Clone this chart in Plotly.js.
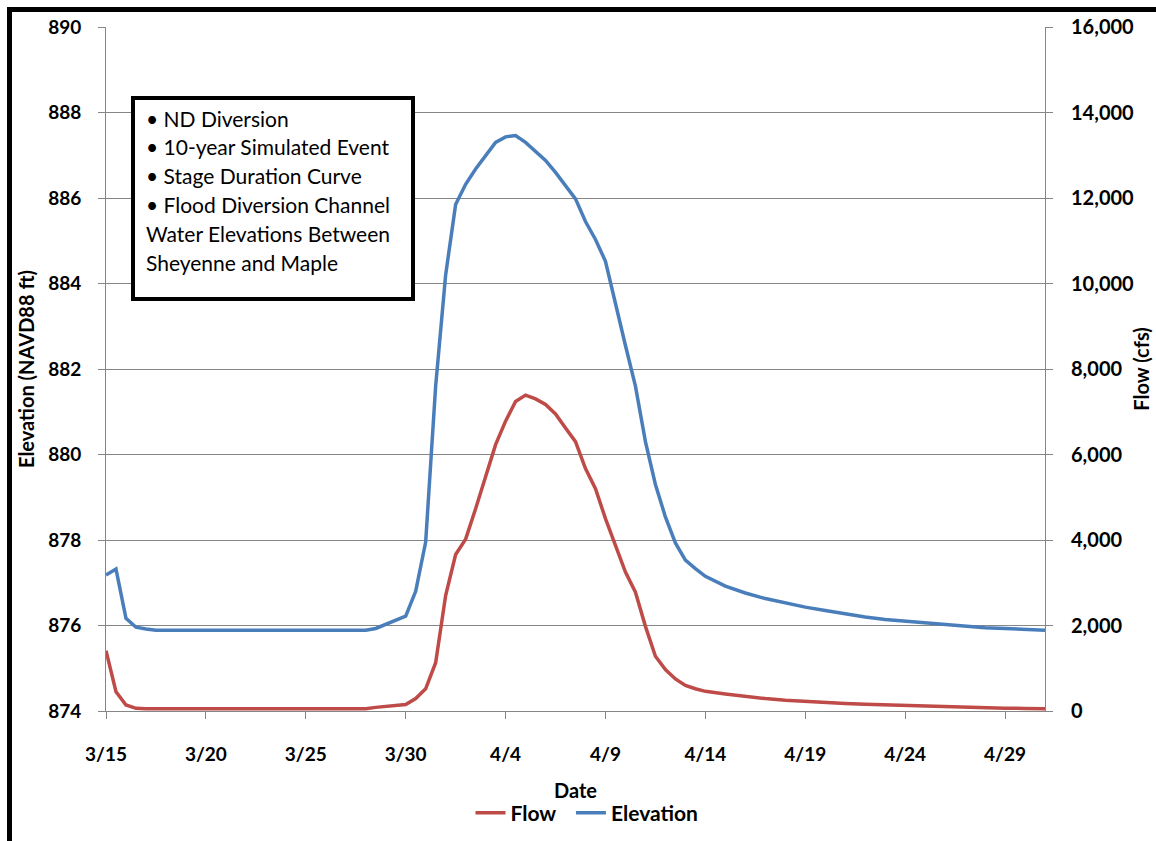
<!DOCTYPE html>
<html>
<head>
<meta charset="utf-8">
<script src="https://cdn.plot.ly/plotly-3.0.1.min.js"></script>
<style>
  html, body { margin: 0; padding: 0; background: #ffffff; }
  #chart { width: 1156px; height: 841px; }
</style>
</head>
<body>
<div id="chart"></div>
<script>
// ---- Data ----
const dates = [
  '2010-03-15 00:00', '2010-03-15 12:00', '2010-03-16 00:00', '2010-03-16 12:00',
  '2010-03-17 00:00', '2010-03-17 12:00', '2010-03-18', '2010-03-19', '2010-03-20',
  '2010-03-21', '2010-03-22', '2010-03-23', '2010-03-24', '2010-03-25', '2010-03-26',
  '2010-03-27', '2010-03-28 00:00', '2010-03-28 12:00', '2010-03-29 00:00', '2010-03-29 12:00',
  '2010-03-30 00:00', '2010-03-30 12:00', '2010-03-31 00:00', '2010-03-31 12:00',
  '2010-04-01 00:00', '2010-04-01 12:00', '2010-04-02 00:00', '2010-04-02 12:00',
  '2010-04-03 00:00', '2010-04-03 12:00', '2010-04-04 00:00', '2010-04-04 12:00',
  '2010-04-05 00:00', '2010-04-05 12:00', '2010-04-06 00:00', '2010-04-06 12:00',
  '2010-04-07 00:00', '2010-04-07 12:00', '2010-04-08 00:00', '2010-04-08 12:00',
  '2010-04-09 00:00', '2010-04-09 12:00', '2010-04-10 00:00', '2010-04-10 12:00',
  '2010-04-11 00:00', '2010-04-11 12:00', '2010-04-12 00:00', '2010-04-12 12:00',
  '2010-04-13 00:00', '2010-04-13 12:00', '2010-04-14', '2010-04-15', '2010-04-16',
  '2010-04-17', '2010-04-18', '2010-04-19', '2010-04-20', '2010-04-21', '2010-04-22',
  '2010-04-23', '2010-04-24', '2010-04-25', '2010-04-26', '2010-04-27', '2010-04-28',
  '2010-04-29', '2010-04-30', '2010-05-01'
];

const flowCfs = [
  1411, 452, 140, 63,
  55, 55, 55, 55, 55,
  55, 55, 55, 55, 55, 55,
  55, 55, 85, 105, 125,
  150, 290, 520, 1130,
  2700, 3660, 4020, 4730,
  5510, 6230, 6780, 7240,
  7390, 7300, 7170, 6950,
  6620, 6300, 5670, 5200,
  4500, 3850, 3250, 2780,
  1980, 1280, 970, 750,
  600, 520, 460, 400, 340,
  290, 250, 220, 195, 175, 155,
  140, 125, 110, 100, 85, 75,
  65, 60, 55
];

const elevationFt = [
  877.18, 877.32, 876.17, 875.96,
  875.92, 875.89, 875.89, 875.89, 875.89,
  875.89, 875.89, 875.89, 875.89, 875.89, 875.89,
  875.89, 875.89, 875.93, 876.02, 876.12,
  876.22, 876.80, 877.95, 881.60,
  884.20, 885.85, 886.32, 886.68,
  887.00, 887.30, 887.43, 887.46,
  887.30, 887.10, 886.88, 886.60,
  886.30, 885.98, 885.45, 885.03,
  884.52, 883.50, 882.55, 881.60,
  880.30, 879.30, 878.54, 877.93,
  877.53, 877.33, 877.15, 876.92, 876.76,
  876.63, 876.52, 876.43, 876.35, 876.27, 876.20,
  876.14, 876.10, 876.06, 876.02, 875.98, 875.95,
  875.93, 875.91, 875.89
];

const seriesNames = ['Flow', 'Elevation'];

const noteLines = [
  '• ND Diversion',
  '• 10-year Simulated Event',
  '• Stage Duration Curve',
  '• Flood Diversion Channel',
  'Water Elevations Between',
  'Sheyenne and Maple'
];

// ---- Chart ----
const FONT = 'Lato, "Open Sans", "DejaVu Sans", sans-serif';
const W = 1156, H = 841;
const M = { l: 106, r: 111, t: 27, b: 130, autoexpand: false };
const PW = W - M.l - M.r, PH = H - M.t - M.b;
const px = x => (x - M.l) / PW;
const py = y => (H - M.b - y) / PH;

const traces = [
  {
    x: dates, y: flowCfs, name: seriesNames[0] + '\u00A0\u00A0', type: 'scatter', mode: 'lines',
    yaxis: 'y2', line: { color: '#BE4B48', width: 3.5 }
  },
  {
    x: dates, y: elevationFt, name: seriesNames[1], type: 'scatter', mode: 'lines',
    yaxis: 'y', line: { color: '#4A7EBB', width: 3.5 }
  }
];

const annotations = noteLines.map((t, i) => ({
  text: t, xref: 'paper', yref: 'paper',
  x: px(144), y: py(118 + i * 28.8),
  xanchor: 'left', yanchor: 'middle', showarrow: false, align: 'left',
  font: { family: FONT, size: 21, color: '#000000' }
}));

const layout = {
  width: W, height: H,
  margin: M,
  paper_bgcolor: '#ffffff', plot_bgcolor: '#ffffff',
  font: { family: FONT, color: '#000000' },
  showlegend: true,
  legend: {
    orientation: 'h', x: px(587), xanchor: 'center', y: py(813), yanchor: 'middle',
    font: { family: FONT, size: 21, color: '#000000', weight: 'bold' },
    itemwidth: 30, tracegroupgap: 0
  },
  xaxis: {
    type: 'date',
    range: ['2010-03-15', '2010-05-01'],
    tick0: '2010-03-15', dtick: 5 * 86400000,
    tickformat: '%-m/%-d',
    ticks: 'outside', ticklen: 7, tickcolor: '#868686', tickwidth: 1,
    ticklabelstandoff: 19,
    showline: true, linecolor: '#868686', linewidth: 1,
    showgrid: false, zeroline: false,
    tickfont: { family: FONT, size: 19, weight: 'bold', color: '#000000' },
    title: { text: 'Date', font: { family: FONT, size: 20, weight: 'bold' }, standoff: 20 }
  },
  yaxis: {
    range: [874, 890], dtick: 2, tick0: 874,
    ticks: 'outside', ticklen: 7, tickcolor: '#868686', tickwidth: 1,
    ticklabelstandoff: 13,
    showline: true, linecolor: '#868686', linewidth: 1,
    showgrid: true, gridcolor: '#868686', gridwidth: 1, zeroline: false,
    tickfont: { family: FONT, size: 19, weight: 'bold', color: '#000000' },
    title: { text: 'Elevation (NAVD88 ft)', font: { family: FONT, size: 20, weight: 'bold' }, standoff: 8 }
  },
  yaxis2: {
    overlaying: 'y', side: 'right',
    range: [0, 16000], dtick: 2000, tick0: 0, tickformat: ',d',
    ticks: 'outside', ticklen: 7, tickcolor: '#868686', tickwidth: 1,
    ticklabelstandoff: 14,
    showline: true, linecolor: '#868686', linewidth: 1,
    showgrid: false, zeroline: false,
    tickfont: { family: FONT, size: 20, weight: 'bold', color: '#000000' },
    title: { text: 'Flow (cfs)', font: { family: FONT, size: 20, weight: 'bold' }, standoff: 1 }
  },
  shapes: [
    {
      type: 'rect', xref: 'paper', yref: 'paper', layer: 'above',
      x0: px(133), x1: px(413), y0: py(98), y1: py(299),
      line: { color: '#000000', width: 4 }, fillcolor: '#ffffff'
    },
    {
      type: 'line', xref: 'paper', yref: 'paper', layer: 'above',
      x0: px(9.5), x1: px(9.5), y0: py(7), y1: py(845),
      line: { color: '#000000', width: 5 }
    },
    {
      type: 'line', xref: 'paper', yref: 'paper', layer: 'above',
      x0: px(7), x1: px(1160), y0: py(9.5), y1: py(9.5),
      line: { color: '#000000', width: 5 }
    }
  ],
  annotations: annotations
};

Plotly.newPlot('chart', traces, layout, { displayModeBar: false, staticPlot: true });
</script>
</body>
</html>
